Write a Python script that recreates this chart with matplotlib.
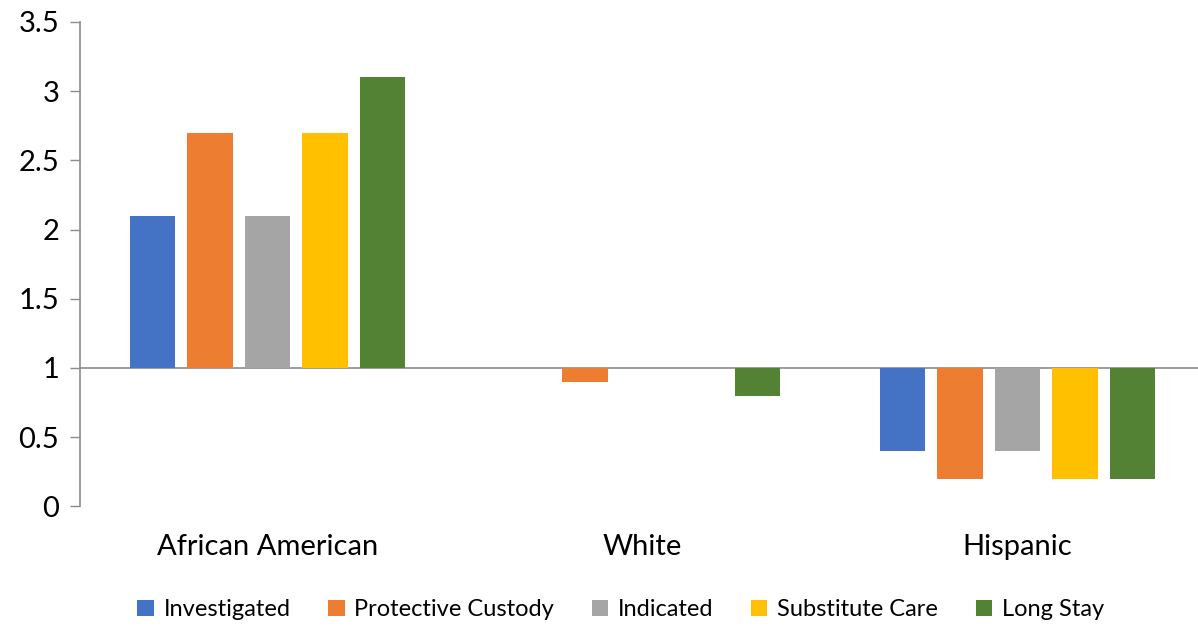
#!/usr/bin/env python3
import matplotlib.pyplot as plt
import numpy as np

# Data: disproportionality ratios by race (bars drawn from baseline 1)
categories = ['African American', 'White', 'Hispanic']
series = ['Investigated', 'Protective Custody', 'Indicated', 'Substitute Care', 'Long Stay']
investigated = [2.1, 1.0, 0.4]
protective_custody = [2.7, 0.9, 0.2]
indicated = [2.1, 1.0, 0.4]
substitute_care = [2.7, 1.0, 0.2]
long_stay = [3.1, 0.8, 0.2]
colors = ['#4472C4', '#ED7D31', '#A5A5A5', '#FFC000', '#548235']
yticks = [0, 0.5, 1, 1.5, 2, 2.5, 3, 3.5]

plt.rcParams['font.family'] = ['Lato', 'DejaVu Sans']

fig = plt.figure(figsize=(11.98, 6.26), dpi=100)
ax = fig.add_axes([0.0668, 0.191, 0.939, 0.774])

x = np.arange(len(categories))
width = 0.121
step = 0.1535
all_values = [investigated, protective_custody, indicated, substitute_care, long_stay]
for i, (name, vals, col) in enumerate(zip(series, all_values, colors)):
    vals = np.array(vals)
    ax.bar(x + (i - 2) * step, vals - 1, bottom=1, width=width, color=col, label=name)

ax.axhline(1, color='#8c8c8c', linewidth=1.2, zorder=0)

ax.set_xlim(-0.5, 2.5)
ax.set_ylim(0, 3.5)
ax.set_yticks(yticks)
ax.set_yticklabels([f'{t:g}' for t in yticks], fontsize=21)
ax.set_xticks(x)
ax.set_xticklabels(categories, fontsize=21)
ax.tick_params(axis='x', length=0, pad=20)
ax.tick_params(axis='y', length=7, width=1, color='#8c8c8c', pad=8)

for s in ['top', 'right', 'bottom']:
    ax.spines[s].set_visible(False)
ax.spines['left'].set_color('#8c8c8c')
ax.spines['left'].set_linewidth(1.2)

fig.legend(loc='center', bbox_to_anchor=(0.518, 0.026), ncol=5, frameon=False,
           fontsize=17, handlelength=0.7, handleheight=0.7, handletextpad=0.4,
           columnspacing=1.6)

plt.savefig('out.png', dpi=100)
